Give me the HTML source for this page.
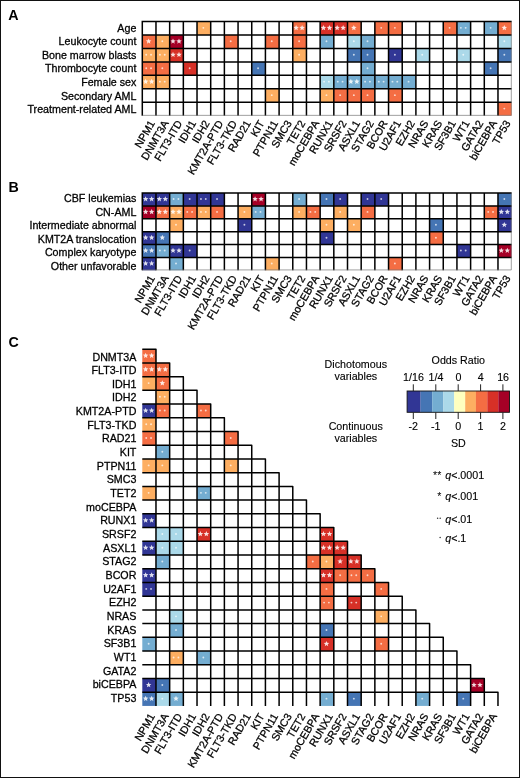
<!DOCTYPE html>
<html><head><meta charset="utf-8"><style>
html,body{margin:0;padding:0;background:#fff;}
body{width:520px;height:778px;overflow:hidden;font-family:"Liberation Sans",sans-serif;}
svg{display:block;will-change:transform;}
svg text{stroke:#000;stroke-width:0.28px;}
svg g.L text{stroke:none;}
svg g.G text{stroke-width:0.12px;}
</style></head><body>
<svg width="520" height="778" viewBox="0 0 520 778" font-family="Liberation Sans, sans-serif" font-size="10.70">
<rect x="0" y="0" width="520" height="778" fill="#fff"/>
<rect x="197.02" y="21.50" width="13.68" height="13.46" fill="#fdae61"/>
<g fill="#fff" fill-opacity="0.72"><circle cx="203.36" cy="27.83" r="0.95"/></g>
<rect x="292.78" y="21.50" width="13.68" height="13.46" fill="#f46d43"/>
<g fill="#fff" fill-opacity="0.85"><polygon points="296.12,24.93 296.89,26.77 298.88,26.93 297.36,28.23 297.82,30.18 296.12,29.14 294.42,30.18 294.88,28.23 293.36,26.93 295.35,26.77"/><polygon points="302.12,24.93 302.89,26.77 304.88,26.93 303.36,28.23 303.82,30.18 302.12,29.14 300.42,30.18 300.88,28.23 299.36,26.93 301.35,26.77"/></g>
<rect x="320.14" y="21.50" width="13.68" height="13.46" fill="#d73027"/>
<g fill="#fff" fill-opacity="0.85"><polygon points="323.48,24.93 324.25,26.77 326.24,26.93 324.72,28.23 325.18,30.18 323.48,29.14 321.78,30.18 322.24,28.23 320.72,26.93 322.71,26.77"/><polygon points="329.48,24.93 330.25,26.77 332.24,26.93 330.72,28.23 331.18,30.18 329.48,29.14 327.78,30.18 328.24,28.23 326.72,26.93 328.71,26.77"/></g>
<rect x="333.82" y="21.50" width="13.68" height="13.46" fill="#d73027"/>
<g fill="#fff" fill-opacity="0.85"><polygon points="337.16,24.93 337.93,26.77 339.92,26.93 338.40,28.23 338.86,30.18 337.16,29.14 335.46,30.18 335.92,28.23 334.40,26.93 336.39,26.77"/><polygon points="343.16,24.93 343.93,26.77 345.92,26.93 344.40,28.23 344.86,30.18 343.16,29.14 341.46,30.18 341.92,28.23 340.40,26.93 342.39,26.77"/></g>
<rect x="347.50" y="21.50" width="13.68" height="13.46" fill="#f46d43"/>
<g fill="#fff" fill-opacity="0.85"><polygon points="353.84,24.93 354.61,26.77 356.60,26.93 355.08,28.23 355.54,30.18 353.84,29.14 352.14,30.18 352.60,28.23 351.08,26.93 353.07,26.77"/></g>
<rect x="374.86" y="21.50" width="13.68" height="13.46" fill="#f46d43"/>
<g fill="#fff" fill-opacity="0.72"><circle cx="381.20" cy="27.83" r="0.95"/></g>
<rect x="388.54" y="21.50" width="13.68" height="13.46" fill="#f46d43"/>
<g fill="#fff" fill-opacity="0.72"><circle cx="394.88" cy="27.83" r="0.95"/></g>
<rect x="443.26" y="21.50" width="13.68" height="13.46" fill="#f46d43"/>
<g fill="#fff" fill-opacity="0.72"><circle cx="449.60" cy="27.83" r="0.95"/></g>
<rect x="456.94" y="21.50" width="13.68" height="13.46" fill="#74add1"/>
<g fill="#fff" fill-opacity="0.72"><circle cx="460.88" cy="27.83" r="0.95"/><circle cx="465.68" cy="27.83" r="0.95"/></g>
<rect x="484.30" y="21.50" width="13.68" height="13.46" fill="#74add1"/>
<g fill="#fff" fill-opacity="0.72"><circle cx="490.64" cy="27.83" r="0.95"/></g>
<rect x="497.98" y="21.50" width="13.68" height="13.46" fill="#f46d43"/>
<g fill="#fff" fill-opacity="0.85"><polygon points="504.32,24.93 505.09,26.77 507.08,26.93 505.56,28.23 506.02,30.18 504.32,29.14 502.62,30.18 503.08,28.23 501.56,26.93 503.55,26.77"/></g>
<rect x="142.30" y="34.96" width="13.68" height="13.46" fill="#f46d43"/>
<g fill="#fff" fill-opacity="0.85"><polygon points="148.64,38.39 149.41,40.23 151.40,40.39 149.88,41.69 150.34,43.64 148.64,42.59 146.94,43.64 147.40,41.69 145.88,40.39 147.87,40.23"/></g>
<rect x="155.98" y="34.96" width="13.68" height="13.46" fill="#fdae61"/>
<g fill="#fff" fill-opacity="0.72"><circle cx="162.32" cy="41.29" r="0.95"/></g>
<rect x="169.66" y="34.96" width="13.68" height="13.46" fill="#a50026"/>
<g fill="#fff" fill-opacity="0.85"><polygon points="173.00,38.39 173.77,40.23 175.76,40.39 174.24,41.69 174.70,43.64 173.00,42.59 171.30,43.64 171.76,41.69 170.24,40.39 172.23,40.23"/><polygon points="179.00,38.39 179.77,40.23 181.76,40.39 180.24,41.69 180.70,43.64 179.00,42.59 177.30,43.64 177.76,41.69 176.24,40.39 178.23,40.23"/></g>
<rect x="224.38" y="34.96" width="13.68" height="13.46" fill="#f46d43"/>
<g fill="#fff" fill-opacity="0.72"><circle cx="230.72" cy="41.29" r="0.95"/></g>
<rect x="265.42" y="34.96" width="13.68" height="13.46" fill="#f46d43"/>
<g fill="#fff" fill-opacity="0.72"><circle cx="271.76" cy="41.29" r="0.95"/></g>
<rect x="292.78" y="34.96" width="13.68" height="13.46" fill="#f46d43"/>
<g fill="#fff" fill-opacity="0.72"><circle cx="299.12" cy="41.29" r="0.95"/></g>
<rect x="320.14" y="34.96" width="13.68" height="13.46" fill="#74add1"/>
<g fill="#fff" fill-opacity="0.72"><circle cx="326.48" cy="41.29" r="0.95"/></g>
<rect x="347.50" y="34.96" width="13.68" height="13.46" fill="#abd9e9"/>
<g fill="#fff" fill-opacity="0.72"><circle cx="353.84" cy="41.29" r="0.95"/></g>
<rect x="361.18" y="34.96" width="13.68" height="13.46" fill="#74add1"/>
<g fill="#fff" fill-opacity="0.72"><circle cx="367.52" cy="41.29" r="0.95"/></g>
<rect x="497.98" y="34.96" width="13.68" height="13.46" fill="#abd9e9"/>
<g fill="#fff" fill-opacity="0.72"><circle cx="504.32" cy="41.29" r="0.95"/></g>
<rect x="142.30" y="48.42" width="13.68" height="13.46" fill="#fdae61"/>
<g fill="#fff" fill-opacity="0.72"><circle cx="146.24" cy="54.75" r="0.95"/><circle cx="151.04" cy="54.75" r="0.95"/></g>
<rect x="155.98" y="48.42" width="13.68" height="13.46" fill="#fdae61"/>
<g fill="#fff" fill-opacity="0.72"><circle cx="159.92" cy="54.75" r="0.95"/><circle cx="164.72" cy="54.75" r="0.95"/></g>
<rect x="169.66" y="48.42" width="13.68" height="13.46" fill="#d73027"/>
<g fill="#fff" fill-opacity="0.85"><polygon points="173.00,51.85 173.77,53.69 175.76,53.85 174.24,55.15 174.70,57.10 173.00,56.06 171.30,57.10 171.76,55.15 170.24,53.85 172.23,53.69"/><polygon points="179.00,51.85 179.77,53.69 181.76,53.85 180.24,55.15 180.70,57.10 179.00,56.06 177.30,57.10 177.76,55.15 176.24,53.85 178.23,53.69"/></g>
<rect x="292.78" y="48.42" width="13.68" height="13.46" fill="#fdae61"/>
<g fill="#fff" fill-opacity="0.72"><circle cx="299.12" cy="54.75" r="0.95"/></g>
<rect x="347.50" y="48.42" width="13.68" height="13.46" fill="#4575b4"/>
<g fill="#fff" fill-opacity="0.72"><circle cx="353.84" cy="54.75" r="0.95"/></g>
<rect x="361.18" y="48.42" width="13.68" height="13.46" fill="#4575b4"/>
<g fill="#fff" fill-opacity="0.72"><circle cx="367.52" cy="54.75" r="0.95"/></g>
<rect x="388.54" y="48.42" width="13.68" height="13.46" fill="#313695"/>
<g fill="#fff" fill-opacity="0.72"><circle cx="394.88" cy="54.75" r="0.95"/></g>
<rect x="415.90" y="48.42" width="13.68" height="13.46" fill="#abd9e9"/>
<g fill="#fff" fill-opacity="0.72"><circle cx="422.24" cy="54.75" r="0.95"/></g>
<rect x="456.94" y="48.42" width="13.68" height="13.46" fill="#abd9e9"/>
<g fill="#fff" fill-opacity="0.72"><circle cx="463.28" cy="54.75" r="0.95"/></g>
<rect x="497.98" y="48.42" width="13.68" height="13.46" fill="#4575b4"/>
<g fill="#fff" fill-opacity="0.72"><circle cx="504.32" cy="54.75" r="0.95"/></g>
<rect x="142.30" y="61.88" width="13.68" height="13.46" fill="#f46d43"/>
<g fill="#fff" fill-opacity="0.72"><circle cx="146.24" cy="68.21" r="0.95"/><circle cx="151.04" cy="68.21" r="0.95"/></g>
<rect x="155.98" y="61.88" width="13.68" height="13.46" fill="#f46d43"/>
<g fill="#fff" fill-opacity="0.72"><circle cx="162.32" cy="68.21" r="0.95"/></g>
<rect x="183.34" y="61.88" width="13.68" height="13.46" fill="#d73027"/>
<g fill="#fff" fill-opacity="0.72"><circle cx="189.68" cy="68.21" r="0.95"/></g>
<rect x="251.74" y="61.88" width="13.68" height="13.46" fill="#4575b4"/>
<g fill="#fff" fill-opacity="0.72"><circle cx="258.08" cy="68.21" r="0.95"/></g>
<rect x="361.18" y="61.88" width="13.68" height="13.46" fill="#74add1"/>
<g fill="#fff" fill-opacity="0.72"><circle cx="367.52" cy="68.21" r="0.95"/></g>
<rect x="484.30" y="61.88" width="13.68" height="13.46" fill="#4575b4"/>
<g fill="#fff" fill-opacity="0.72"><circle cx="490.64" cy="68.21" r="0.95"/></g>
<rect x="142.30" y="75.34" width="13.68" height="13.46" fill="#fdae61"/>
<g fill="#fff" fill-opacity="0.85"><polygon points="145.64,78.77 146.41,80.61 148.40,80.77 146.88,82.07 147.34,84.02 145.64,82.98 143.94,84.02 144.40,82.07 142.88,80.77 144.87,80.61"/><polygon points="151.64,78.77 152.41,80.61 154.40,80.77 152.88,82.07 153.34,84.02 151.64,82.98 149.94,84.02 150.40,82.07 148.88,80.77 150.87,80.61"/></g>
<rect x="155.98" y="75.34" width="13.68" height="13.46" fill="#fdae61"/>
<g fill="#fff" fill-opacity="0.72"><circle cx="159.92" cy="81.67" r="0.95"/><circle cx="164.72" cy="81.67" r="0.95"/></g>
<rect x="320.14" y="75.34" width="13.68" height="13.46" fill="#abd9e9"/>
<g fill="#fff" fill-opacity="0.72"><circle cx="324.08" cy="81.67" r="0.95"/><circle cx="328.88" cy="81.67" r="0.95"/></g>
<rect x="333.82" y="75.34" width="13.68" height="13.46" fill="#74add1"/>
<g fill="#fff" fill-opacity="0.72"><circle cx="337.76" cy="81.67" r="0.95"/><circle cx="342.56" cy="81.67" r="0.95"/></g>
<rect x="347.50" y="75.34" width="13.68" height="13.46" fill="#74add1"/>
<g fill="#fff" fill-opacity="0.85"><polygon points="350.84,78.77 351.61,80.61 353.60,80.77 352.08,82.07 352.54,84.02 350.84,82.98 349.14,84.02 349.60,82.07 348.08,80.77 350.07,80.61"/><polygon points="356.84,78.77 357.61,80.61 359.60,80.77 358.08,82.07 358.54,84.02 356.84,82.98 355.14,84.02 355.60,82.07 354.08,80.77 356.07,80.61"/></g>
<rect x="361.18" y="75.34" width="13.68" height="13.46" fill="#74add1"/>
<g fill="#fff" fill-opacity="0.72"><circle cx="365.12" cy="81.67" r="0.95"/><circle cx="369.92" cy="81.67" r="0.95"/></g>
<rect x="374.86" y="75.34" width="13.68" height="13.46" fill="#74add1"/>
<g fill="#fff" fill-opacity="0.72"><circle cx="378.80" cy="81.67" r="0.95"/><circle cx="383.60" cy="81.67" r="0.95"/></g>
<rect x="388.54" y="75.34" width="13.68" height="13.46" fill="#74add1"/>
<g fill="#fff" fill-opacity="0.72"><circle cx="392.48" cy="81.67" r="0.95"/><circle cx="397.28" cy="81.67" r="0.95"/></g>
<rect x="402.22" y="75.34" width="13.68" height="13.46" fill="#74add1"/>
<g fill="#fff" fill-opacity="0.72"><circle cx="408.56" cy="81.67" r="0.95"/></g>
<rect x="265.42" y="88.80" width="13.68" height="13.46" fill="#fdae61"/>
<g fill="#fff" fill-opacity="0.72"><circle cx="271.76" cy="95.13" r="0.95"/></g>
<rect x="320.14" y="88.80" width="13.68" height="13.46" fill="#fdae61"/>
<g fill="#fff" fill-opacity="0.72"><circle cx="326.48" cy="95.13" r="0.95"/></g>
<rect x="333.82" y="88.80" width="13.68" height="13.46" fill="#f46d43"/>
<g fill="#fff" fill-opacity="0.72"><circle cx="340.16" cy="95.13" r="0.95"/></g>
<rect x="347.50" y="88.80" width="13.68" height="13.46" fill="#f46d43"/>
<g fill="#fff" fill-opacity="0.72"><circle cx="353.84" cy="95.13" r="0.95"/></g>
<rect x="361.18" y="88.80" width="13.68" height="13.46" fill="#f46d43"/>
<g fill="#fff" fill-opacity="0.72"><circle cx="367.52" cy="95.13" r="0.95"/></g>
<rect x="388.54" y="88.80" width="13.68" height="13.46" fill="#f46d43"/>
<g fill="#fff" fill-opacity="0.72"><circle cx="394.88" cy="95.13" r="0.95"/></g>
<rect x="497.98" y="102.26" width="13.68" height="13.46" fill="#f46d43"/>
<g fill="#fff" fill-opacity="0.72"><circle cx="504.32" cy="108.59" r="0.95"/></g>
<path d="M141.55 21.50H511.66M141.55 34.96H511.66M141.55 48.42H511.66M141.55 61.88H511.66M141.55 75.34H511.66M141.55 88.80H511.66M141.55 102.26H511.66M142.30 21.50V115.72M155.98 21.50V115.72M169.66 21.50V115.72M183.34 21.50V115.72M197.02 21.50V115.72M210.70 21.50V115.72M224.38 21.50V115.72M238.06 21.50V115.72M251.74 21.50V115.72M265.42 21.50V115.72M279.10 21.50V115.72M292.78 21.50V115.72M306.46 21.50V115.72M320.14 21.50V115.72M333.82 21.50V115.72M347.50 21.50V115.72M361.18 21.50V115.72M374.86 21.50V115.72M388.54 21.50V115.72M402.22 21.50V115.72M415.90 21.50V115.72M429.58 21.50V115.72M443.26 21.50V115.72M456.94 21.50V115.72M470.62 21.50V115.72M484.30 21.50V115.72M497.98 21.50V115.72" stroke="#000" stroke-width="1.50" fill="none"/>
<path d="M142.30 115.37H511.31V21.50" stroke="#777" stroke-width="0.7" fill="none"/>
<text x="136.40" y="31.60" text-anchor="end">Age</text>
<text x="136.40" y="45.20" text-anchor="end">Leukocyte count</text>
<text x="136.40" y="58.80" text-anchor="end">Bone marrow blasts</text>
<text x="136.40" y="72.40" text-anchor="end">Thrombocyte count</text>
<text x="136.40" y="86.00" text-anchor="end">Female sex</text>
<text x="136.40" y="99.60" text-anchor="end">Secondary AML</text>
<text x="136.40" y="113.20" text-anchor="end">Treatment-related AML</text>
<text transform="translate(155.34 123.02) rotate(-60)" text-anchor="end">NPM1</text>
<text transform="translate(169.02 123.02) rotate(-60)" text-anchor="end">DNMT3A</text>
<text transform="translate(182.70 123.02) rotate(-60)" text-anchor="end">FLT3-ITD</text>
<text transform="translate(196.38 123.02) rotate(-60)" text-anchor="end">IDH1</text>
<text transform="translate(210.06 123.02) rotate(-60)" text-anchor="end">IDH2</text>
<text transform="translate(223.74 123.02) rotate(-60)" text-anchor="end">KMT2A-PTD</text>
<text transform="translate(237.42 123.02) rotate(-60)" text-anchor="end">FLT3-TKD</text>
<text transform="translate(251.10 123.02) rotate(-60)" text-anchor="end">RAD21</text>
<text transform="translate(264.78 123.02) rotate(-60)" text-anchor="end">KIT</text>
<text transform="translate(278.46 123.02) rotate(-60)" text-anchor="end">PTPN11</text>
<text transform="translate(292.14 123.02) rotate(-60)" text-anchor="end">SMC3</text>
<text transform="translate(305.82 123.02) rotate(-60)" text-anchor="end">TET2</text>
<text transform="translate(319.50 123.02) rotate(-60)" text-anchor="end">moCEBPA</text>
<text transform="translate(333.18 123.02) rotate(-60)" text-anchor="end">RUNX1</text>
<text transform="translate(346.86 123.02) rotate(-60)" text-anchor="end">SRSF2</text>
<text transform="translate(360.54 123.02) rotate(-60)" text-anchor="end">ASXL1</text>
<text transform="translate(374.22 123.02) rotate(-60)" text-anchor="end">STAG2</text>
<text transform="translate(387.90 123.02) rotate(-60)" text-anchor="end">BCOR</text>
<text transform="translate(401.58 123.02) rotate(-60)" text-anchor="end">U2AF1</text>
<text transform="translate(415.26 123.02) rotate(-60)" text-anchor="end">EZH2</text>
<text transform="translate(428.94 123.02) rotate(-60)" text-anchor="end">NRAS</text>
<text transform="translate(442.62 123.02) rotate(-60)" text-anchor="end">KRAS</text>
<text transform="translate(456.30 123.02) rotate(-60)" text-anchor="end">SF3B1</text>
<text transform="translate(469.98 123.02) rotate(-60)" text-anchor="end">WT1</text>
<text transform="translate(483.66 123.02) rotate(-60)" text-anchor="end">GATA2</text>
<text transform="translate(497.34 123.02) rotate(-60)" text-anchor="end">biCEBPA</text>
<text transform="translate(511.02 123.02) rotate(-60)" text-anchor="end">TP53</text>
<rect x="142.30" y="193.00" width="13.68" height="12.88" fill="#313695"/>
<g fill="#fff" fill-opacity="0.85"><polygon points="145.64,196.14 146.41,197.98 148.40,198.14 146.88,199.44 147.34,201.39 145.64,200.34 143.94,201.39 144.40,199.44 142.88,198.14 144.87,197.98"/><polygon points="151.64,196.14 152.41,197.98 154.40,198.14 152.88,199.44 153.34,201.39 151.64,200.34 149.94,201.39 150.40,199.44 148.88,198.14 150.87,197.98"/></g>
<rect x="155.98" y="193.00" width="13.68" height="12.88" fill="#313695"/>
<g fill="#fff" fill-opacity="0.85"><polygon points="159.32,196.14 160.09,197.98 162.08,198.14 160.56,199.44 161.02,201.39 159.32,200.34 157.62,201.39 158.08,199.44 156.56,198.14 158.55,197.98"/><polygon points="165.32,196.14 166.09,197.98 168.08,198.14 166.56,199.44 167.02,201.39 165.32,200.34 163.62,201.39 164.08,199.44 162.56,198.14 164.55,197.98"/></g>
<rect x="169.66" y="193.00" width="13.68" height="12.88" fill="#74add1"/>
<g fill="#fff" fill-opacity="0.72"><circle cx="173.60" cy="199.04" r="0.95"/><circle cx="178.40" cy="199.04" r="0.95"/></g>
<rect x="183.34" y="193.00" width="13.68" height="12.88" fill="#313695"/>
<g fill="#fff" fill-opacity="0.72"><circle cx="189.68" cy="199.04" r="0.95"/></g>
<rect x="197.02" y="193.00" width="13.68" height="12.88" fill="#313695"/>
<g fill="#fff" fill-opacity="0.72"><circle cx="200.96" cy="199.04" r="0.95"/><circle cx="205.76" cy="199.04" r="0.95"/></g>
<rect x="210.70" y="193.00" width="13.68" height="12.88" fill="#313695"/>
<g fill="#fff" fill-opacity="0.72"><circle cx="217.04" cy="199.04" r="0.95"/></g>
<rect x="251.74" y="193.00" width="13.68" height="12.88" fill="#a50026"/>
<g fill="#fff" fill-opacity="0.85"><polygon points="255.08,196.14 255.85,197.98 257.84,198.14 256.32,199.44 256.78,201.39 255.08,200.34 253.38,201.39 253.84,199.44 252.32,198.14 254.31,197.98"/><polygon points="261.08,196.14 261.85,197.98 263.84,198.14 262.32,199.44 262.78,201.39 261.08,200.34 259.38,201.39 259.84,199.44 258.32,198.14 260.31,197.98"/></g>
<rect x="292.78" y="193.00" width="13.68" height="12.88" fill="#74add1"/>
<g fill="#fff" fill-opacity="0.72"><circle cx="299.12" cy="199.04" r="0.95"/></g>
<rect x="320.14" y="193.00" width="13.68" height="12.88" fill="#4575b4"/>
<g fill="#fff" fill-opacity="0.72"><circle cx="326.48" cy="199.04" r="0.95"/></g>
<rect x="333.82" y="193.00" width="13.68" height="12.88" fill="#313695"/>
<g fill="#fff" fill-opacity="0.72"><circle cx="340.16" cy="199.04" r="0.95"/></g>
<rect x="361.18" y="193.00" width="13.68" height="12.88" fill="#313695"/>
<g fill="#fff" fill-opacity="0.72"><circle cx="367.52" cy="199.04" r="0.95"/></g>
<rect x="374.86" y="193.00" width="13.68" height="12.88" fill="#313695"/>
<g fill="#fff" fill-opacity="0.72"><circle cx="381.20" cy="199.04" r="0.95"/></g>
<rect x="497.98" y="193.00" width="13.68" height="12.88" fill="#4575b4"/>
<g fill="#fff" fill-opacity="0.72"><circle cx="504.32" cy="199.04" r="0.95"/></g>
<rect x="142.30" y="205.88" width="13.68" height="12.88" fill="#a50026"/>
<g fill="#fff" fill-opacity="0.85"><polygon points="145.64,209.02 146.41,210.86 148.40,211.02 146.88,212.32 147.34,214.27 145.64,213.22 143.94,214.27 144.40,212.32 142.88,211.02 144.87,210.86"/><polygon points="151.64,209.02 152.41,210.86 154.40,211.02 152.88,212.32 153.34,214.27 151.64,213.22 149.94,214.27 150.40,212.32 148.88,211.02 150.87,210.86"/></g>
<rect x="155.98" y="205.88" width="13.68" height="12.88" fill="#f46d43"/>
<g fill="#fff" fill-opacity="0.85"><polygon points="159.32,209.02 160.09,210.86 162.08,211.02 160.56,212.32 161.02,214.27 159.32,213.22 157.62,214.27 158.08,212.32 156.56,211.02 158.55,210.86"/><polygon points="165.32,209.02 166.09,210.86 168.08,211.02 166.56,212.32 167.02,214.27 165.32,213.22 163.62,214.27 164.08,212.32 162.56,211.02 164.55,210.86"/></g>
<rect x="169.66" y="205.88" width="13.68" height="12.88" fill="#fdae61"/>
<g fill="#fff" fill-opacity="0.85"><polygon points="173.00,209.02 173.77,210.86 175.76,211.02 174.24,212.32 174.70,214.27 173.00,213.22 171.30,214.27 171.76,212.32 170.24,211.02 172.23,210.86"/><polygon points="179.00,209.02 179.77,210.86 181.76,211.02 180.24,212.32 180.70,214.27 179.00,213.22 177.30,214.27 177.76,212.32 176.24,211.02 178.23,210.86"/></g>
<rect x="183.34" y="205.88" width="13.68" height="12.88" fill="#f46d43"/>
<g fill="#fff" fill-opacity="0.72"><circle cx="187.28" cy="211.92" r="0.95"/><circle cx="192.08" cy="211.92" r="0.95"/></g>
<rect x="197.02" y="205.88" width="13.68" height="12.88" fill="#fdae61"/>
<g fill="#fff" fill-opacity="0.72"><circle cx="200.96" cy="211.92" r="0.95"/><circle cx="205.76" cy="211.92" r="0.95"/></g>
<rect x="210.70" y="205.88" width="13.68" height="12.88" fill="#f46d43"/>
<g fill="#fff" fill-opacity="0.72"><circle cx="217.04" cy="211.92" r="0.95"/></g>
<rect x="238.06" y="205.88" width="13.68" height="12.88" fill="#fdae61"/>
<g fill="#fff" fill-opacity="0.72"><circle cx="244.40" cy="211.92" r="0.95"/></g>
<rect x="251.74" y="205.88" width="13.68" height="12.88" fill="#74add1"/>
<g fill="#fff" fill-opacity="0.72"><circle cx="255.68" cy="211.92" r="0.95"/><circle cx="260.48" cy="211.92" r="0.95"/></g>
<rect x="292.78" y="205.88" width="13.68" height="12.88" fill="#fdae61"/>
<g fill="#fff" fill-opacity="0.72"><circle cx="299.12" cy="211.92" r="0.95"/></g>
<rect x="306.46" y="205.88" width="13.68" height="12.88" fill="#f46d43"/>
<g fill="#fff" fill-opacity="0.72"><circle cx="310.40" cy="211.92" r="0.95"/><circle cx="315.20" cy="211.92" r="0.95"/></g>
<rect x="333.82" y="205.88" width="13.68" height="12.88" fill="#fdae61"/>
<g fill="#fff" fill-opacity="0.72"><circle cx="340.16" cy="211.92" r="0.95"/></g>
<rect x="361.18" y="205.88" width="13.68" height="12.88" fill="#f46d43"/>
<g fill="#fff" fill-opacity="0.72"><circle cx="367.52" cy="211.92" r="0.95"/></g>
<rect x="484.30" y="205.88" width="13.68" height="12.88" fill="#f46d43"/>
<g fill="#fff" fill-opacity="0.72"><circle cx="488.24" cy="211.92" r="0.95"/><circle cx="493.04" cy="211.92" r="0.95"/></g>
<rect x="497.98" y="205.88" width="13.68" height="12.88" fill="#313695"/>
<g fill="#fff" fill-opacity="0.85"><polygon points="501.32,209.02 502.09,210.86 504.08,211.02 502.56,212.32 503.02,214.27 501.32,213.22 499.62,214.27 500.08,212.32 498.56,211.02 500.55,210.86"/><polygon points="507.32,209.02 508.09,210.86 510.08,211.02 508.56,212.32 509.02,214.27 507.32,213.22 505.62,214.27 506.08,212.32 504.56,211.02 506.55,210.86"/></g>
<rect x="169.66" y="218.76" width="13.68" height="12.88" fill="#fdae61"/>
<g fill="#fff" fill-opacity="0.72"><circle cx="176.00" cy="224.80" r="0.95"/></g>
<rect x="238.06" y="218.76" width="13.68" height="12.88" fill="#313695"/>
<g fill="#fff" fill-opacity="0.72"><circle cx="244.40" cy="224.80" r="0.95"/></g>
<rect x="320.14" y="218.76" width="13.68" height="12.88" fill="#fdae61"/>
<g fill="#fff" fill-opacity="0.72"><circle cx="326.48" cy="224.80" r="0.95"/></g>
<rect x="347.50" y="218.76" width="13.68" height="12.88" fill="#fdae61"/>
<g fill="#fff" fill-opacity="0.72"><circle cx="353.84" cy="224.80" r="0.95"/></g>
<rect x="429.58" y="218.76" width="13.68" height="12.88" fill="#4575b4"/>
<g fill="#fff" fill-opacity="0.72"><circle cx="435.92" cy="224.80" r="0.95"/></g>
<rect x="497.98" y="218.76" width="13.68" height="12.88" fill="#313695"/>
<g fill="#fff" fill-opacity="0.85"><polygon points="504.32,221.90 505.09,223.74 507.08,223.90 505.56,225.20 506.02,227.15 504.32,226.10 502.62,227.15 503.08,225.20 501.56,223.90 503.55,223.74"/></g>
<rect x="142.30" y="231.64" width="13.68" height="12.88" fill="#313695"/>
<g fill="#fff" fill-opacity="0.85"><polygon points="145.64,234.78 146.41,236.62 148.40,236.78 146.88,238.08 147.34,240.03 145.64,238.98 143.94,240.03 144.40,238.08 142.88,236.78 144.87,236.62"/><polygon points="151.64,234.78 152.41,236.62 154.40,236.78 152.88,238.08 153.34,240.03 151.64,238.98 149.94,240.03 150.40,238.08 148.88,236.78 150.87,236.62"/></g>
<rect x="155.98" y="231.64" width="13.68" height="12.88" fill="#4575b4"/>
<g fill="#fff" fill-opacity="0.85"><polygon points="162.32,234.78 163.09,236.62 165.08,236.78 163.56,238.08 164.02,240.03 162.32,238.98 160.62,240.03 161.08,238.08 159.56,236.78 161.55,236.62"/></g>
<rect x="320.14" y="231.64" width="13.68" height="12.88" fill="#313695"/>
<g fill="#fff" fill-opacity="0.72"><circle cx="326.48" cy="237.68" r="0.95"/></g>
<rect x="429.58" y="231.64" width="13.68" height="12.88" fill="#f46d43"/>
<g fill="#fff" fill-opacity="0.72"><circle cx="435.92" cy="237.68" r="0.95"/></g>
<rect x="142.30" y="244.52" width="13.68" height="12.88" fill="#4575b4"/>
<g fill="#fff" fill-opacity="0.85"><polygon points="145.64,247.66 146.41,249.50 148.40,249.66 146.88,250.96 147.34,252.91 145.64,251.87 143.94,252.91 144.40,250.96 142.88,249.66 144.87,249.50"/><polygon points="151.64,247.66 152.41,249.50 154.40,249.66 152.88,250.96 153.34,252.91 151.64,251.87 149.94,252.91 150.40,250.96 148.88,249.66 150.87,249.50"/></g>
<rect x="155.98" y="244.52" width="13.68" height="12.88" fill="#74add1"/>
<g fill="#fff" fill-opacity="0.72"><circle cx="159.92" cy="250.56" r="0.95"/><circle cx="164.72" cy="250.56" r="0.95"/></g>
<rect x="169.66" y="244.52" width="13.68" height="12.88" fill="#313695"/>
<g fill="#fff" fill-opacity="0.85"><polygon points="173.00,247.66 173.77,249.50 175.76,249.66 174.24,250.96 174.70,252.91 173.00,251.87 171.30,252.91 171.76,250.96 170.24,249.66 172.23,249.50"/><polygon points="179.00,247.66 179.77,249.50 181.76,249.66 180.24,250.96 180.70,252.91 179.00,251.87 177.30,252.91 177.76,250.96 176.24,249.66 178.23,249.50"/></g>
<rect x="183.34" y="244.52" width="13.68" height="12.88" fill="#313695"/>
<g fill="#fff" fill-opacity="0.72"><circle cx="189.68" cy="250.56" r="0.95"/></g>
<rect x="456.94" y="244.52" width="13.68" height="12.88" fill="#313695"/>
<g fill="#fff" fill-opacity="0.72"><circle cx="460.88" cy="250.56" r="0.95"/><circle cx="465.68" cy="250.56" r="0.95"/></g>
<rect x="497.98" y="244.52" width="13.68" height="12.88" fill="#a50026"/>
<g fill="#fff" fill-opacity="0.85"><polygon points="501.32,247.66 502.09,249.50 504.08,249.66 502.56,250.96 503.02,252.91 501.32,251.87 499.62,252.91 500.08,250.96 498.56,249.66 500.55,249.50"/><polygon points="507.32,247.66 508.09,249.50 510.08,249.66 508.56,250.96 509.02,252.91 507.32,251.87 505.62,252.91 506.08,250.96 504.56,249.66 506.55,249.50"/></g>
<rect x="142.30" y="257.40" width="13.68" height="12.88" fill="#313695"/>
<g fill="#fff" fill-opacity="0.85"><polygon points="145.64,260.54 146.41,262.38 148.40,262.54 146.88,263.84 147.34,265.79 145.64,264.75 143.94,265.79 144.40,263.84 142.88,262.54 144.87,262.38"/><polygon points="151.64,260.54 152.41,262.38 154.40,262.54 152.88,263.84 153.34,265.79 151.64,264.75 149.94,265.79 150.40,263.84 148.88,262.54 150.87,262.38"/></g>
<rect x="169.66" y="257.40" width="13.68" height="12.88" fill="#74add1"/>
<g fill="#fff" fill-opacity="0.72"><circle cx="176.00" cy="263.44" r="0.95"/></g>
<rect x="265.42" y="257.40" width="13.68" height="12.88" fill="#fdae61"/>
<g fill="#fff" fill-opacity="0.72"><circle cx="271.76" cy="263.44" r="0.95"/></g>
<rect x="388.54" y="257.40" width="13.68" height="12.88" fill="#f46d43"/>
<g fill="#fff" fill-opacity="0.72"><circle cx="394.88" cy="263.44" r="0.95"/></g>
<path d="M141.55 193.00H511.66M141.55 205.88H511.66M141.55 218.76H511.66M141.55 231.64H511.66M141.55 244.52H511.66M141.55 257.40H511.66M142.30 193.00V270.28M155.98 193.00V270.28M169.66 193.00V270.28M183.34 193.00V270.28M197.02 193.00V270.28M210.70 193.00V270.28M224.38 193.00V270.28M238.06 193.00V270.28M251.74 193.00V270.28M265.42 193.00V270.28M279.10 193.00V270.28M292.78 193.00V270.28M306.46 193.00V270.28M320.14 193.00V270.28M333.82 193.00V270.28M347.50 193.00V270.28M361.18 193.00V270.28M374.86 193.00V270.28M388.54 193.00V270.28M402.22 193.00V270.28M415.90 193.00V270.28M429.58 193.00V270.28M443.26 193.00V270.28M456.94 193.00V270.28M470.62 193.00V270.28M484.30 193.00V270.28M497.98 193.00V270.28" stroke="#000" stroke-width="1.50" fill="none"/>
<path d="M142.30 269.93H511.31V193.00" stroke="#777" stroke-width="0.7" fill="none"/>
<text x="136.40" y="202.10" text-anchor="end">CBF leukemias</text>
<text x="136.40" y="215.62" text-anchor="end">CN-AML</text>
<text x="136.40" y="229.14" text-anchor="end">Intermediate abnormal</text>
<text x="136.40" y="242.66" text-anchor="end">KMT2A translocation</text>
<text x="136.40" y="256.18" text-anchor="end">Complex karyotype</text>
<text x="136.40" y="269.70" text-anchor="end">Other unfavorable</text>
<text transform="translate(155.34 277.98) rotate(-60)" text-anchor="end">NPM1</text>
<text transform="translate(169.02 277.98) rotate(-60)" text-anchor="end">DNMT3A</text>
<text transform="translate(182.70 277.98) rotate(-60)" text-anchor="end">FLT3-ITD</text>
<text transform="translate(196.38 277.98) rotate(-60)" text-anchor="end">IDH1</text>
<text transform="translate(210.06 277.98) rotate(-60)" text-anchor="end">IDH2</text>
<text transform="translate(223.74 277.98) rotate(-60)" text-anchor="end">KMT2A-PTD</text>
<text transform="translate(237.42 277.98) rotate(-60)" text-anchor="end">FLT3-TKD</text>
<text transform="translate(251.10 277.98) rotate(-60)" text-anchor="end">RAD21</text>
<text transform="translate(264.78 277.98) rotate(-60)" text-anchor="end">KIT</text>
<text transform="translate(278.46 277.98) rotate(-60)" text-anchor="end">PTPN11</text>
<text transform="translate(292.14 277.98) rotate(-60)" text-anchor="end">SMC3</text>
<text transform="translate(305.82 277.98) rotate(-60)" text-anchor="end">TET2</text>
<text transform="translate(319.50 277.98) rotate(-60)" text-anchor="end">moCEBPA</text>
<text transform="translate(333.18 277.98) rotate(-60)" text-anchor="end">RUNX1</text>
<text transform="translate(346.86 277.98) rotate(-60)" text-anchor="end">SRSF2</text>
<text transform="translate(360.54 277.98) rotate(-60)" text-anchor="end">ASXL1</text>
<text transform="translate(374.22 277.98) rotate(-60)" text-anchor="end">STAG2</text>
<text transform="translate(387.90 277.98) rotate(-60)" text-anchor="end">BCOR</text>
<text transform="translate(401.58 277.98) rotate(-60)" text-anchor="end">U2AF1</text>
<text transform="translate(415.26 277.98) rotate(-60)" text-anchor="end">EZH2</text>
<text transform="translate(428.94 277.98) rotate(-60)" text-anchor="end">NRAS</text>
<text transform="translate(442.62 277.98) rotate(-60)" text-anchor="end">KRAS</text>
<text transform="translate(456.30 277.98) rotate(-60)" text-anchor="end">SF3B1</text>
<text transform="translate(469.98 277.98) rotate(-60)" text-anchor="end">WT1</text>
<text transform="translate(483.66 277.98) rotate(-60)" text-anchor="end">GATA2</text>
<text transform="translate(497.34 277.98) rotate(-60)" text-anchor="end">biCEBPA</text>
<text transform="translate(511.02 277.98) rotate(-60)" text-anchor="end">TP53</text>
<rect x="142.30" y="349.20" width="13.68" height="13.72" fill="#f46d43"/>
<g fill="#fff" fill-opacity="0.85"><polygon points="145.64,352.76 146.41,354.60 148.40,354.76 146.88,356.06 147.34,358.01 145.64,356.97 143.94,358.01 144.40,356.06 142.88,354.76 144.87,354.60"/><polygon points="151.64,352.76 152.41,354.60 154.40,354.76 152.88,356.06 153.34,358.01 151.64,356.97 149.94,358.01 150.40,356.06 148.88,354.76 150.87,354.60"/></g>
<rect x="142.30" y="362.92" width="13.68" height="13.72" fill="#f46d43"/>
<g fill="#fff" fill-opacity="0.85"><polygon points="145.64,366.48 146.41,368.32 148.40,368.48 146.88,369.78 147.34,371.73 145.64,370.69 143.94,371.73 144.40,369.78 142.88,368.48 144.87,368.32"/><polygon points="151.64,366.48 152.41,368.32 154.40,368.48 152.88,369.78 153.34,371.73 151.64,370.69 149.94,371.73 150.40,369.78 148.88,368.48 150.87,368.32"/></g>
<rect x="155.98" y="362.92" width="13.68" height="13.72" fill="#f46d43"/>
<g fill="#fff" fill-opacity="0.85"><polygon points="159.32,366.48 160.09,368.32 162.08,368.48 160.56,369.78 161.02,371.73 159.32,370.69 157.62,371.73 158.08,369.78 156.56,368.48 158.55,368.32"/><polygon points="165.32,366.48 166.09,368.32 168.08,368.48 166.56,369.78 167.02,371.73 165.32,370.69 163.62,371.73 164.08,369.78 162.56,368.48 164.55,368.32"/></g>
<rect x="142.30" y="376.64" width="13.68" height="13.72" fill="#fdae61"/>
<g fill="#fff" fill-opacity="0.72"><circle cx="148.64" cy="383.10" r="0.95"/></g>
<rect x="155.98" y="376.64" width="13.68" height="13.72" fill="#f46d43"/>
<g fill="#fff" fill-opacity="0.85"><polygon points="162.32,380.20 163.09,382.04 165.08,382.20 163.56,383.50 164.02,385.45 162.32,384.41 160.62,385.45 161.08,383.50 159.56,382.20 161.55,382.04"/></g>
<rect x="155.98" y="390.36" width="13.68" height="13.72" fill="#fdae61"/>
<g fill="#fff" fill-opacity="0.72"><circle cx="159.92" cy="396.82" r="0.95"/><circle cx="164.72" cy="396.82" r="0.95"/></g>
<rect x="142.30" y="404.08" width="13.68" height="13.72" fill="#313695"/>
<g fill="#fff" fill-opacity="0.85"><polygon points="145.64,407.64 146.41,409.48 148.40,409.64 146.88,410.94 147.34,412.89 145.64,411.85 143.94,412.89 144.40,410.94 142.88,409.64 144.87,409.48"/><polygon points="151.64,407.64 152.41,409.48 154.40,409.64 152.88,410.94 153.34,412.89 151.64,411.85 149.94,412.89 150.40,410.94 148.88,409.64 150.87,409.48"/></g>
<rect x="155.98" y="404.08" width="13.68" height="13.72" fill="#f46d43"/>
<g fill="#fff" fill-opacity="0.72"><circle cx="159.92" cy="410.54" r="0.95"/><circle cx="164.72" cy="410.54" r="0.95"/></g>
<rect x="197.02" y="404.08" width="13.68" height="13.72" fill="#f46d43"/>
<g fill="#fff" fill-opacity="0.72"><circle cx="200.96" cy="410.54" r="0.95"/><circle cx="205.76" cy="410.54" r="0.95"/></g>
<rect x="142.30" y="417.80" width="13.68" height="13.72" fill="#fdae61"/>
<g fill="#fff" fill-opacity="0.72"><circle cx="146.24" cy="424.26" r="0.95"/><circle cx="151.04" cy="424.26" r="0.95"/></g>
<rect x="142.30" y="431.52" width="13.68" height="13.72" fill="#f46d43"/>
<g fill="#fff" fill-opacity="0.72"><circle cx="146.24" cy="437.98" r="0.95"/><circle cx="151.04" cy="437.98" r="0.95"/></g>
<rect x="224.38" y="431.52" width="13.68" height="13.72" fill="#f46d43"/>
<g fill="#fff" fill-opacity="0.72"><circle cx="230.72" cy="437.98" r="0.95"/></g>
<rect x="155.98" y="445.24" width="13.68" height="13.72" fill="#74add1"/>
<g fill="#fff" fill-opacity="0.72"><circle cx="162.32" cy="451.70" r="0.95"/></g>
<rect x="142.30" y="458.96" width="13.68" height="13.72" fill="#fdae61"/>
<g fill="#fff" fill-opacity="0.72"><circle cx="148.64" cy="465.42" r="0.95"/></g>
<rect x="155.98" y="458.96" width="13.68" height="13.72" fill="#fdae61"/>
<g fill="#fff" fill-opacity="0.72"><circle cx="162.32" cy="465.42" r="0.95"/></g>
<rect x="224.38" y="458.96" width="13.68" height="13.72" fill="#fdae61"/>
<g fill="#fff" fill-opacity="0.72"><circle cx="230.72" cy="465.42" r="0.95"/></g>
<rect x="142.30" y="486.40" width="13.68" height="13.72" fill="#fdae61"/>
<g fill="#fff" fill-opacity="0.72"><circle cx="148.64" cy="492.86" r="0.95"/></g>
<rect x="197.02" y="486.40" width="13.68" height="13.72" fill="#74add1"/>
<g fill="#fff" fill-opacity="0.72"><circle cx="200.96" cy="492.86" r="0.95"/><circle cx="205.76" cy="492.86" r="0.95"/></g>
<rect x="142.30" y="513.84" width="13.68" height="13.72" fill="#313695"/>
<g fill="#fff" fill-opacity="0.85"><polygon points="145.64,517.40 146.41,519.24 148.40,519.40 146.88,520.70 147.34,522.65 145.64,521.61 143.94,522.65 144.40,520.70 142.88,519.40 144.87,519.24"/><polygon points="151.64,517.40 152.41,519.24 154.40,519.40 152.88,520.70 153.34,522.65 151.64,521.61 149.94,522.65 150.40,520.70 148.88,519.40 150.87,519.24"/></g>
<rect x="155.98" y="527.56" width="13.68" height="13.72" fill="#abd9e9"/>
<g fill="#fff" fill-opacity="0.72"><circle cx="162.32" cy="534.02" r="0.95"/></g>
<rect x="169.66" y="527.56" width="13.68" height="13.72" fill="#abd9e9"/>
<g fill="#fff" fill-opacity="0.72"><circle cx="176.00" cy="534.02" r="0.95"/></g>
<rect x="197.02" y="527.56" width="13.68" height="13.72" fill="#d73027"/>
<g fill="#fff" fill-opacity="0.85"><polygon points="200.36,531.12 201.13,532.96 203.12,533.12 201.60,534.42 202.06,536.37 200.36,535.32 198.66,536.37 199.12,534.42 197.60,533.12 199.59,532.96"/><polygon points="206.36,531.12 207.13,532.96 209.12,533.12 207.60,534.42 208.06,536.37 206.36,535.32 204.66,536.37 205.12,534.42 203.60,533.12 205.59,532.96"/></g>
<rect x="320.14" y="527.56" width="13.68" height="13.72" fill="#d73027"/>
<g fill="#fff" fill-opacity="0.85"><polygon points="323.48,531.12 324.25,532.96 326.24,533.12 324.72,534.42 325.18,536.37 323.48,535.32 321.78,536.37 322.24,534.42 320.72,533.12 322.71,532.96"/><polygon points="329.48,531.12 330.25,532.96 332.24,533.12 330.72,534.42 331.18,536.37 329.48,535.32 327.78,536.37 328.24,534.42 326.72,533.12 328.71,532.96"/></g>
<rect x="142.30" y="541.28" width="13.68" height="13.72" fill="#313695"/>
<g fill="#fff" fill-opacity="0.85"><polygon points="145.64,544.84 146.41,546.68 148.40,546.84 146.88,548.14 147.34,550.09 145.64,549.04 143.94,550.09 144.40,548.14 142.88,546.84 144.87,546.68"/><polygon points="151.64,544.84 152.41,546.68 154.40,546.84 152.88,548.14 153.34,550.09 151.64,549.04 149.94,550.09 150.40,548.14 148.88,546.84 150.87,546.68"/></g>
<rect x="155.98" y="541.28" width="13.68" height="13.72" fill="#abd9e9"/>
<g fill="#fff" fill-opacity="0.72"><circle cx="162.32" cy="547.74" r="0.95"/></g>
<rect x="169.66" y="541.28" width="13.68" height="13.72" fill="#abd9e9"/>
<g fill="#fff" fill-opacity="0.72"><circle cx="176.00" cy="547.74" r="0.95"/></g>
<rect x="320.14" y="541.28" width="13.68" height="13.72" fill="#d73027"/>
<g fill="#fff" fill-opacity="0.85"><polygon points="323.48,544.84 324.25,546.68 326.24,546.84 324.72,548.14 325.18,550.09 323.48,549.04 321.78,550.09 322.24,548.14 320.72,546.84 322.71,546.68"/><polygon points="329.48,544.84 330.25,546.68 332.24,546.84 330.72,548.14 331.18,550.09 329.48,549.04 327.78,550.09 328.24,548.14 326.72,546.84 328.71,546.68"/></g>
<rect x="333.82" y="541.28" width="13.68" height="13.72" fill="#d73027"/>
<g fill="#fff" fill-opacity="0.85"><polygon points="337.16,544.84 337.93,546.68 339.92,546.84 338.40,548.14 338.86,550.09 337.16,549.04 335.46,550.09 335.92,548.14 334.40,546.84 336.39,546.68"/><polygon points="343.16,544.84 343.93,546.68 345.92,546.84 344.40,548.14 344.86,550.09 343.16,549.04 341.46,550.09 341.92,548.14 340.40,546.84 342.39,546.68"/></g>
<rect x="155.98" y="555.00" width="13.68" height="13.72" fill="#74add1"/>
<g fill="#fff" fill-opacity="0.72"><circle cx="162.32" cy="561.46" r="0.95"/></g>
<rect x="306.46" y="555.00" width="13.68" height="13.72" fill="#f46d43"/>
<g fill="#fff" fill-opacity="0.72"><circle cx="312.80" cy="561.46" r="0.95"/></g>
<rect x="320.14" y="555.00" width="13.68" height="13.72" fill="#fdae61"/>
<g fill="#fff" fill-opacity="0.72"><circle cx="326.48" cy="561.46" r="0.95"/></g>
<rect x="333.82" y="555.00" width="13.68" height="13.72" fill="#d73027"/>
<g fill="#fff" fill-opacity="0.85"><polygon points="340.16,558.56 340.93,560.40 342.92,560.56 341.40,561.86 341.86,563.81 340.16,562.76 338.46,563.81 338.92,561.86 337.40,560.56 339.39,560.40"/></g>
<rect x="347.50" y="555.00" width="13.68" height="13.72" fill="#d73027"/>
<g fill="#fff" fill-opacity="0.85"><polygon points="350.84,558.56 351.61,560.40 353.60,560.56 352.08,561.86 352.54,563.81 350.84,562.76 349.14,563.81 349.60,561.86 348.08,560.56 350.07,560.40"/><polygon points="356.84,558.56 357.61,560.40 359.60,560.56 358.08,561.86 358.54,563.81 356.84,562.76 355.14,563.81 355.60,561.86 354.08,560.56 356.07,560.40"/></g>
<rect x="142.30" y="568.72" width="13.68" height="13.72" fill="#313695"/>
<g fill="#fff" fill-opacity="0.85"><polygon points="145.64,572.28 146.41,574.12 148.40,574.28 146.88,575.58 147.34,577.53 145.64,576.49 143.94,577.53 144.40,575.58 142.88,574.28 144.87,574.12"/><polygon points="151.64,572.28 152.41,574.12 154.40,574.28 152.88,575.58 153.34,577.53 151.64,576.49 149.94,577.53 150.40,575.58 148.88,574.28 150.87,574.12"/></g>
<rect x="320.14" y="568.72" width="13.68" height="13.72" fill="#d73027"/>
<g fill="#fff" fill-opacity="0.85"><polygon points="323.48,572.28 324.25,574.12 326.24,574.28 324.72,575.58 325.18,577.53 323.48,576.49 321.78,577.53 322.24,575.58 320.72,574.28 322.71,574.12"/><polygon points="329.48,572.28 330.25,574.12 332.24,574.28 330.72,575.58 331.18,577.53 329.48,576.49 327.78,577.53 328.24,575.58 326.72,574.28 328.71,574.12"/></g>
<rect x="333.82" y="568.72" width="13.68" height="13.72" fill="#f46d43"/>
<g fill="#fff" fill-opacity="0.72"><circle cx="340.16" cy="575.18" r="0.95"/></g>
<rect x="347.50" y="568.72" width="13.68" height="13.72" fill="#f46d43"/>
<g fill="#fff" fill-opacity="0.72"><circle cx="351.44" cy="575.18" r="0.95"/><circle cx="356.24" cy="575.18" r="0.95"/></g>
<rect x="361.18" y="568.72" width="13.68" height="13.72" fill="#f46d43"/>
<g fill="#fff" fill-opacity="0.72"><circle cx="367.52" cy="575.18" r="0.95"/></g>
<rect x="142.30" y="582.44" width="13.68" height="13.72" fill="#313695"/>
<g fill="#fff" fill-opacity="0.72"><circle cx="146.24" cy="588.90" r="0.95"/><circle cx="151.04" cy="588.90" r="0.95"/></g>
<rect x="320.14" y="582.44" width="13.68" height="13.72" fill="#f46d43"/>
<g fill="#fff" fill-opacity="0.72"><circle cx="326.48" cy="588.90" r="0.95"/></g>
<rect x="374.86" y="582.44" width="13.68" height="13.72" fill="#f46d43"/>
<g fill="#fff" fill-opacity="0.72"><circle cx="381.20" cy="588.90" r="0.95"/></g>
<rect x="320.14" y="596.16" width="13.68" height="13.72" fill="#f46d43"/>
<g fill="#fff" fill-opacity="0.72"><circle cx="324.08" cy="602.62" r="0.95"/><circle cx="328.88" cy="602.62" r="0.95"/></g>
<rect x="347.50" y="596.16" width="13.68" height="13.72" fill="#d73027"/>
<g fill="#fff" fill-opacity="0.72"><circle cx="351.44" cy="602.62" r="0.95"/><circle cx="356.24" cy="602.62" r="0.95"/></g>
<rect x="169.66" y="609.88" width="13.68" height="13.72" fill="#abd9e9"/>
<g fill="#fff" fill-opacity="0.72"><circle cx="176.00" cy="616.34" r="0.95"/></g>
<rect x="374.86" y="609.88" width="13.68" height="13.72" fill="#fdae61"/>
<g fill="#fff" fill-opacity="0.72"><circle cx="381.20" cy="616.34" r="0.95"/></g>
<rect x="169.66" y="623.60" width="13.68" height="13.72" fill="#74add1"/>
<g fill="#fff" fill-opacity="0.72"><circle cx="176.00" cy="630.06" r="0.95"/></g>
<rect x="320.14" y="623.60" width="13.68" height="13.72" fill="#4575b4"/>
<g fill="#fff" fill-opacity="0.72"><circle cx="326.48" cy="630.06" r="0.95"/></g>
<rect x="142.30" y="637.32" width="13.68" height="13.72" fill="#74add1"/>
<g fill="#fff" fill-opacity="0.72"><circle cx="148.64" cy="643.78" r="0.95"/></g>
<rect x="320.14" y="637.32" width="13.68" height="13.72" fill="#d73027"/>
<g fill="#fff" fill-opacity="0.85"><polygon points="326.48,640.88 327.25,642.72 329.24,642.88 327.72,644.18 328.18,646.13 326.48,645.08 324.78,646.13 325.24,644.18 323.72,642.88 325.71,642.72"/></g>
<rect x="374.86" y="637.32" width="13.68" height="13.72" fill="#f46d43"/>
<g fill="#fff" fill-opacity="0.72"><circle cx="381.20" cy="643.78" r="0.95"/></g>
<rect x="169.66" y="651.04" width="13.68" height="13.72" fill="#fdae61"/>
<g fill="#fff" fill-opacity="0.72"><circle cx="173.60" cy="657.50" r="0.95"/><circle cx="178.40" cy="657.50" r="0.95"/></g>
<rect x="197.02" y="651.04" width="13.68" height="13.72" fill="#74add1"/>
<g fill="#fff" fill-opacity="0.72"><circle cx="203.36" cy="657.50" r="0.95"/></g>
<rect x="142.30" y="678.48" width="13.68" height="13.72" fill="#313695"/>
<g fill="#fff" fill-opacity="0.85"><polygon points="148.64,682.04 149.41,683.88 151.40,684.04 149.88,685.34 150.34,687.29 148.64,686.25 146.94,687.29 147.40,685.34 145.88,684.04 147.87,683.88"/></g>
<rect x="155.98" y="678.48" width="13.68" height="13.72" fill="#4575b4"/>
<g fill="#fff" fill-opacity="0.72"><circle cx="162.32" cy="684.94" r="0.95"/></g>
<rect x="470.62" y="678.48" width="13.68" height="13.72" fill="#a50026"/>
<g fill="#fff" fill-opacity="0.85"><polygon points="473.96,682.04 474.73,683.88 476.72,684.04 475.20,685.34 475.66,687.29 473.96,686.25 472.26,687.29 472.72,685.34 471.20,684.04 473.19,683.88"/><polygon points="479.96,682.04 480.73,683.88 482.72,684.04 481.20,685.34 481.66,687.29 479.96,686.25 478.26,687.29 478.72,685.34 477.20,684.04 479.19,683.88"/></g>
<rect x="142.30" y="692.20" width="13.68" height="13.72" fill="#4575b4"/>
<g fill="#fff" fill-opacity="0.85"><polygon points="145.64,695.76 146.41,697.60 148.40,697.76 146.88,699.06 147.34,701.01 145.64,699.97 143.94,701.01 144.40,699.06 142.88,697.76 144.87,697.60"/><polygon points="151.64,695.76 152.41,697.60 154.40,697.76 152.88,699.06 153.34,701.01 151.64,699.97 149.94,701.01 150.40,699.06 148.88,697.76 150.87,697.60"/></g>
<rect x="155.98" y="692.20" width="13.68" height="13.72" fill="#abd9e9"/>
<g fill="#fff" fill-opacity="0.72"><circle cx="162.32" cy="698.66" r="0.95"/></g>
<rect x="169.66" y="692.20" width="13.68" height="13.72" fill="#74add1"/>
<g fill="#fff" fill-opacity="0.85"><polygon points="176.00,695.76 176.77,697.60 178.76,697.76 177.24,699.06 177.70,701.01 176.00,699.97 174.30,701.01 174.76,699.06 173.24,697.76 175.23,697.60"/></g>
<rect x="320.14" y="692.20" width="13.68" height="13.72" fill="#74add1"/>
<g fill="#fff" fill-opacity="0.72"><circle cx="326.48" cy="698.66" r="0.95"/></g>
<rect x="347.50" y="692.20" width="13.68" height="13.72" fill="#4575b4"/>
<g fill="#fff" fill-opacity="0.72"><circle cx="353.84" cy="698.66" r="0.95"/></g>
<rect x="415.90" y="692.20" width="13.68" height="13.72" fill="#74add1"/>
<g fill="#fff" fill-opacity="0.72"><circle cx="422.24" cy="698.66" r="0.95"/></g>
<rect x="456.94" y="692.20" width="13.68" height="13.72" fill="#4575b4"/>
<g fill="#fff" fill-opacity="0.72"><circle cx="463.28" cy="698.66" r="0.95"/></g>
<path d="M142.30 362.92H155.98M142.30 376.64H169.66M142.30 390.36H183.34M142.30 404.08H197.02M142.30 417.80H210.70M142.30 431.52H224.38M142.30 445.24H238.06M142.30 458.96H251.74M142.30 472.68H265.42M142.30 486.40H279.10M142.30 500.12H292.78M142.30 513.84H306.46M142.30 527.56H320.14M142.30 541.28H333.82M142.30 555.00H347.50M142.30 568.72H361.18M142.30 582.44H374.86M142.30 596.16H388.54M142.30 609.88H402.22M142.30 623.60H415.90M142.30 637.32H429.58M142.30 651.04H443.26M142.30 664.76H456.94M142.30 678.48H470.62M142.30 692.20H484.30M155.98 362.92V705.92M169.66 376.64V705.92M183.34 390.36V705.92M197.02 404.08V705.92M210.70 417.80V705.92M224.38 431.52V705.92M238.06 445.24V705.92M251.74 458.96V705.92M265.42 472.68V705.92M279.10 486.40V705.92M292.78 500.12V705.92M306.46 513.84V705.92M320.14 527.56V705.92M333.82 541.28V705.92M347.50 555.00V705.92M361.18 568.72V705.92M374.86 582.44V705.92M388.54 596.16V705.92M402.22 609.88V705.92M415.90 623.60V705.92M429.58 637.32V705.92M443.26 651.04V705.92M456.94 664.76V705.92M470.62 678.48V705.92M484.30 692.20V705.92" stroke="#000" stroke-width="1.50" fill="none"/>
<path d="M142.30 349.20H155.98V362.92H169.66V376.64H183.34V390.36H197.02V404.08H210.70V417.80H224.38V431.52H238.06V445.24H251.74V458.96H265.42V472.68H279.10V486.40H292.78V500.12H306.46V513.84H320.14V527.56H333.82V541.28H347.50V555.00H361.18V568.72H374.86V582.44H388.54V596.16H402.22V609.88H415.90V623.60H429.58V637.32H443.26V651.04H456.94V664.76H470.62V678.48H484.30V692.20H497.98V705.92" stroke="#000" stroke-width="1.50" fill="none" stroke-linejoin="round"/>
<text x="136.40" y="360.50" text-anchor="end">DNMT3A</text>
<text x="136.40" y="374.16" text-anchor="end">FLT3-ITD</text>
<text x="136.40" y="387.82" text-anchor="end">IDH1</text>
<text x="136.40" y="401.48" text-anchor="end">IDH2</text>
<text x="136.40" y="415.14" text-anchor="end">KMT2A-PTD</text>
<text x="136.40" y="428.80" text-anchor="end">FLT3-TKD</text>
<text x="136.40" y="442.46" text-anchor="end">RAD21</text>
<text x="136.40" y="456.12" text-anchor="end">KIT</text>
<text x="136.40" y="469.78" text-anchor="end">PTPN11</text>
<text x="136.40" y="483.44" text-anchor="end">SMC3</text>
<text x="136.40" y="497.10" text-anchor="end">TET2</text>
<text x="136.40" y="510.76" text-anchor="end">moCEBPA</text>
<text x="136.40" y="524.42" text-anchor="end">RUNX1</text>
<text x="136.40" y="538.08" text-anchor="end">SRSF2</text>
<text x="136.40" y="551.74" text-anchor="end">ASXL1</text>
<text x="136.40" y="565.40" text-anchor="end">STAG2</text>
<text x="136.40" y="579.06" text-anchor="end">BCOR</text>
<text x="136.40" y="592.72" text-anchor="end">U2AF1</text>
<text x="136.40" y="606.38" text-anchor="end">EZH2</text>
<text x="136.40" y="620.04" text-anchor="end">NRAS</text>
<text x="136.40" y="633.70" text-anchor="end">KRAS</text>
<text x="136.40" y="647.36" text-anchor="end">SF3B1</text>
<text x="136.40" y="661.02" text-anchor="end">WT1</text>
<text x="136.40" y="674.68" text-anchor="end">GATA2</text>
<text x="136.40" y="688.34" text-anchor="end">biCEBPA</text>
<text x="136.40" y="702.00" text-anchor="end">TP53</text>
<text transform="translate(155.34 716.12) rotate(-60)" text-anchor="end">NPM1</text>
<text transform="translate(169.02 716.12) rotate(-60)" text-anchor="end">DNMT3A</text>
<text transform="translate(182.70 716.12) rotate(-60)" text-anchor="end">FLT3-ITD</text>
<text transform="translate(196.38 716.12) rotate(-60)" text-anchor="end">IDH1</text>
<text transform="translate(210.06 716.12) rotate(-60)" text-anchor="end">IDH2</text>
<text transform="translate(223.74 716.12) rotate(-60)" text-anchor="end">KMT2A-PTD</text>
<text transform="translate(237.42 716.12) rotate(-60)" text-anchor="end">FLT3-TKD</text>
<text transform="translate(251.10 716.12) rotate(-60)" text-anchor="end">RAD21</text>
<text transform="translate(264.78 716.12) rotate(-60)" text-anchor="end">KIT</text>
<text transform="translate(278.46 716.12) rotate(-60)" text-anchor="end">PTPN11</text>
<text transform="translate(292.14 716.12) rotate(-60)" text-anchor="end">SMC3</text>
<text transform="translate(305.82 716.12) rotate(-60)" text-anchor="end">TET2</text>
<text transform="translate(319.50 716.12) rotate(-60)" text-anchor="end">moCEBPA</text>
<text transform="translate(333.18 716.12) rotate(-60)" text-anchor="end">RUNX1</text>
<text transform="translate(346.86 716.12) rotate(-60)" text-anchor="end">SRSF2</text>
<text transform="translate(360.54 716.12) rotate(-60)" text-anchor="end">ASXL1</text>
<text transform="translate(374.22 716.12) rotate(-60)" text-anchor="end">STAG2</text>
<text transform="translate(387.90 716.12) rotate(-60)" text-anchor="end">BCOR</text>
<text transform="translate(401.58 716.12) rotate(-60)" text-anchor="end">U2AF1</text>
<text transform="translate(415.26 716.12) rotate(-60)" text-anchor="end">EZH2</text>
<text transform="translate(428.94 716.12) rotate(-60)" text-anchor="end">NRAS</text>
<text transform="translate(442.62 716.12) rotate(-60)" text-anchor="end">KRAS</text>
<text transform="translate(456.30 716.12) rotate(-60)" text-anchor="end">SF3B1</text>
<text transform="translate(469.98 716.12) rotate(-60)" text-anchor="end">WT1</text>
<text transform="translate(483.66 716.12) rotate(-60)" text-anchor="end">GATA2</text>
<text transform="translate(497.34 716.12) rotate(-60)" text-anchor="end">biCEBPA</text>
<g class="G">
<rect x="407.10" y="391.00" width="13.55" height="21.30" fill="#313695"/>
<rect x="420.60" y="391.00" width="11.65" height="21.30" fill="#4575b4"/>
<rect x="432.20" y="391.00" width="11.15" height="21.30" fill="#74add1"/>
<rect x="443.30" y="391.00" width="10.95" height="21.30" fill="#abd9e9"/>
<rect x="454.20" y="391.00" width="11.05" height="21.30" fill="#ffffbf"/>
<rect x="465.20" y="391.00" width="10.75" height="21.30" fill="#fdae61"/>
<rect x="475.90" y="391.00" width="11.45" height="21.30" fill="#f46d43"/>
<rect x="487.30" y="391.00" width="11.05" height="21.30" fill="#d73027"/>
<rect x="498.30" y="391.00" width="11.25" height="21.30" fill="#a50026"/>
<rect x="407.10" y="391.00" width="102.40" height="21.30" fill="none" stroke="#111" stroke-width="0.9"/>
<path d="M413.30 384.30V391.00M413.30 412.30V419.00M435.80 384.30V391.00M435.80 412.30V419.00M458.20 384.30V391.00M458.20 412.30V419.00M480.60 384.30V391.00M480.60 412.30V419.00M502.90 384.30V391.00M502.90 412.30V419.00" stroke="#222" stroke-width="1"/>
<text x="413.50" y="380.6" text-anchor="middle">1/16</text>
<text x="436.00" y="380.6" text-anchor="middle">1/4</text>
<text x="458.40" y="380.6" text-anchor="middle">0</text>
<text x="480.80" y="380.6" text-anchor="middle">4</text>
<text x="503.10" y="380.6" text-anchor="middle">16</text>
<text x="413.30" y="429.8" text-anchor="middle">-2</text>
<text x="435.80" y="429.8" text-anchor="middle">-1</text>
<text x="458.20" y="429.8" text-anchor="middle">0</text>
<text x="480.60" y="429.8" text-anchor="middle">1</text>
<text x="502.90" y="429.8" text-anchor="middle">2</text>
<text x="458.3" y="364.1" text-anchor="middle">Odds Ratio</text>
<text x="458.4" y="446.8" text-anchor="middle">SD</text>
<text x="355.8" y="368.1" text-anchor="middle">Dichotomous</text>
<text x="355.8" y="380.4" text-anchor="middle">variables</text>
<text x="355.7" y="430.0" text-anchor="middle">Continuous</text>
<text x="355.8" y="442.3" text-anchor="middle">variables</text>
<text x="441.4" y="479.40" text-anchor="end" style="stroke:none">**</text>
<text x="445.2" y="479.40"><tspan font-style="italic">q</tspan>&lt;.0001</text>
<text x="441.4" y="500.40" text-anchor="end" style="stroke:none">*</text>
<text x="445.2" y="500.40"><tspan font-style="italic">q</tspan>&lt;.001</text>
<circle cx="437.6" cy="518.30" r="0.75" fill="#333"/><circle cx="440.2" cy="518.30" r="0.75" fill="#333"/>
<text x="445.2" y="523.10"><tspan font-style="italic">q</tspan>&lt;.01</text>
<circle cx="440.1" cy="537.40" r="0.75" fill="#333"/>
<text x="445.2" y="541.60"><tspan font-style="italic">q</tspan>&lt;.1</text>
</g>
<g class="L" font-weight="bold" font-size="15.5">
<text transform="translate(8.3 19.9) scale(0.92 1)">A</text>
<text transform="translate(8.5 191.7) scale(0.92 1)">B</text>
<text transform="translate(8.5 346.9) scale(0.92 1)">C</text>
</g>
<rect x="0.5" y="0.5" width="519" height="777" fill="none" stroke="#111" stroke-width="1"/>
</svg>
</body></html>
